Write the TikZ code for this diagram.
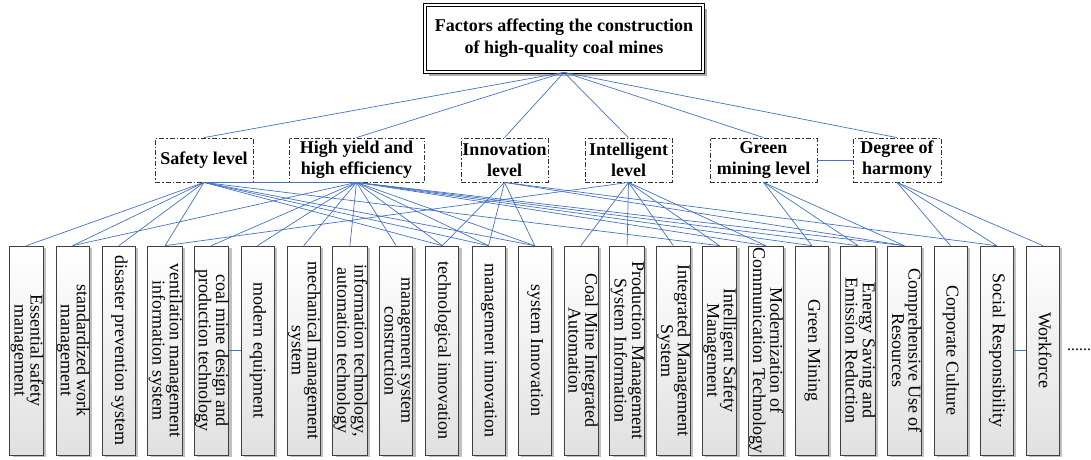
\documentclass[tikz,border=0pt]{standalone}
\usepackage{fontspec}
\setmainfont{Liberation Serif}
\usetikzlibrary{shadows}
\definecolor{linkblue}{RGB}{68,114,196}
\newcommand\leaftext[1]{\rotatebox{-90}{\fontsize{18}{16}\selectfont\begin{tabular}{@{}c@{}}#1\end{tabular}}}
\begin{document}
\begin{tikzpicture}[x=1pt,y=-1pt,
  conn/.style={draw=linkblue, line width=0.7pt},
  leaf/.style={draw=black!75, line width=0.7pt, minimum width=33pt, minimum height=209pt, inner sep=0pt,
    top color=white, bottom color=black!12,
    drop shadow={shadow xshift=3pt, shadow yshift=-2pt, fill=black!35, opacity=0.7}},
  mid/.style={draw=black!80, line width=0.8pt, dash pattern=on 5pt off 2pt on 1.5pt off 2pt,
    minimum height=44pt, inner sep=0pt, align=center, fill=white,
    font=\fontsize{18}{21}\selectfont\bfseries},
  titlebox/.style={draw=black, line width=0.7pt, double, double distance=2.2pt, fill=white,
    minimum width=278pt, minimum height=67pt, inner sep=0pt, align=center,
    font=\fontsize{18}{22}\selectfont\bfseries,
    drop shadow={shadow xshift=4pt, shadow yshift=-4pt, fill=black!40, opacity=0.8}},
]
\useasboundingbox (0,0) rectangle (1091,459);

% title
\node[titlebox] (t) at (564,38.5) {Factors affecting the construction\\of high-quality coal mines};

% middle level
\node[mid, minimum width=98pt]  (s)  at (204,160)   {Safety level};
\node[mid, minimum width=135pt] (hy) at (356.5,160) {High yield and\\high efficiency};
\node[mid, minimum width=87pt]  (in) at (504.5,160) {Innovation\\level};
\node[mid, minimum width=87pt]  (it) at (628.5,160) {Intelligent\\level};
\node[mid, minimum width=107pt] (g)  at (763.5,160) {Green\\mining level};
\node[mid, minimum width=88pt]  (h)  at (897,160)   {Degree of\\harmony};

% leaves
\node[leaf] (l0)  at (26.5,350.5)  {\leaftext{Essential safety\\management}};
\node[leaf] (l1)  at (72.7,350.5)  {\leaftext{standardized work\\management}};
\node[leaf] (l2)  at (118.9,350.5) {\leaftext{disaster prevention system}};
\node[leaf] (l3)  at (165.1,350.5) {\leaftext{ventilation management\\information system}};
\node[leaf] (l4)  at (211.3,350.5) {\leaftext{coal mine design and\\production technology}};
\node[leaf] (l5)  at (257.5,350.5) {\leaftext{modern equipment}};
\node[leaf] (l6)  at (303.7,350.5) {\leaftext{mechanical management\\system}};
\node[leaf] (l7)  at (349.9,350.5) {\leaftext{information technology,\\automation technology}};
\node[leaf] (l8)  at (396.1,350.5) {\leaftext{management system\\construction}};
\node[leaf] (l9)  at (442.3,350.5) {\leaftext{technological innovation}};
\node[leaf] (l10) at (488.5,350.5) {\leaftext{management innovation}};
\node[leaf] (l11) at (534.7,350.5) {\leaftext{system Innovation}};
\node[leaf] (l12) at (580.9,350.5) {\leaftext{Coal Mine Integrated\\Automation}};
\node[leaf] (l13) at (627.1,350.5) {\leaftext{Production Management\\System Information}};
\node[leaf] (l14) at (673.3,350.5) {\leaftext{Integrated Management\\System}};
\node[leaf] (l15) at (719.5,350.5) {\leaftext{Intelligent Safety\\Management}};
\node[leaf] (l16) at (765.7,350.5) {\leaftext{Modernization of\\Communication Technology}};
\node[leaf] (l17) at (811.9,350.5) {\leaftext{Green Mining}};
\node[leaf] (l18) at (858.1,350.5) {\leaftext{Energy Saving and\\Emission Reduction}};
\node[leaf] (l19) at (904.3,350.5) {\leaftext{Comprehensive Use of\\Resources}};
\node[leaf] (l20) at (950.5,350.5) {\leaftext{Corporate Culture}};
\node[leaf] (l21) at (996.7,350.5) {\leaftext{Social Responsibility}};
\node[leaf] (l22) at (1042.9,350.5) {\leaftext{Workforce}};
\node[font=\fontsize{16}{16}\selectfont, inner sep=0pt] (more) at (1079,350) {......};

% title to middle
\foreach \m in {s,hy,in,it,g,h} \draw[conn] (t.south) -- (\m.north);

% middle to leaves
\foreach \l in {l0,l1,l2,l3,l9,l10,l11,l15} \draw[conn] (s.south) -- (\l.north);
\foreach \l in {l1,l4,l5,l6,l7,l8,l9,l10,l11,l16,l17,l18,l19} \draw[conn] (hy.south) -- (\l.north);
\foreach \l in {l9,l10,l11,l19,l21} \draw[conn] (in.south) -- (\l.north);
\foreach \l in {l3,l12,l13,l14,l15,l16} \draw[conn] (it.south) -- (\l.north);
\foreach \l in {l17,l18,l19} \draw[conn] (g.south) -- (\l.north);
\foreach \l in {l20,l21,l22} \draw[conn] (h.south) -- (\l.north);

% side links
\draw[conn] (s.south) -- (hy.south);
\draw[conn] (g) -- (h);
\draw[conn] (l4) -- (l5);
\draw[conn] (l21) -- (l22);
\end{tikzpicture}
\end{document}
